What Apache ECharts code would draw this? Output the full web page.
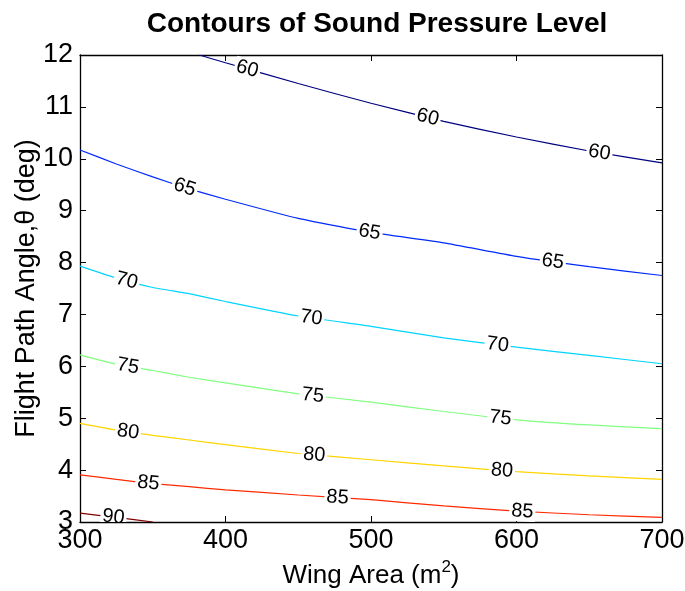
<!DOCTYPE html>
<html>
<head>
<meta charset="utf-8">
<script src="https://cdn.jsdelivr.net/npm/echarts@6/dist/echarts.min.js"></script>
<style>html,body{margin:0;padding:0;background:#fff;}#c{width:685px;height:591px;}</style>
</head>
<body>
<div id="c"></div>
<script>
// Data
const levels = [60, 65, 70, 75, 80, 85, 90];
const x60 = [382, 400, 450, 500, 550, 600, 650, 700];
const y60 = [12.0, 11.85, 11.45, 11.07, 10.72, 10.42, 10.15, 9.92];
const xCommon = [300, 325, 350, 375, 400, 450, 500, 550, 600, 650, 700];
const y65 = [10.17, 9.90, 9.65, 9.42, 9.22, 8.85, 8.58, 8.38, 8.12, 7.92, 7.75];
const y70 = [7.93, 7.70, 7.52, 7.40, 7.25, 6.97, 6.77, 6.55, 6.37, 6.21, 6.05];
const y75 = [6.22, 6.04, 5.92, 5.79, 5.68, 5.47, 5.31, 5.13, 4.97, 4.87, 4.80];
const y80 = [4.90, 4.77, 4.67, 4.58, 4.49, 4.32, 4.20, 4.08, 3.97, 3.89, 3.82];
const y85 = [3.91, 3.82, 3.74, 3.68, 3.62, 3.52, 3.43, 3.31, 3.21, 3.14, 3.09];
const x90 = [300, 325, 350];
const y90 = [3.17, 3.09, 3.0];
// label x-positions (wing area) for each contour level
const labelX60 = [415, 539, 657];
const labelX65 = [372, 499, 625];
const labelX70 = [332, 459, 587];
const labelX75 = [333, 460, 589];
const labelX80 = [333, 461, 590];
const labelX85 = [347, 477, 604];
const labelX90 = [323];
const xTicks = [300, 400, 500, 600, 700];
const yTicks = [3, 4, 5, 6, 7, 8, 9, 10, 11, 12];

const colors = ['#000080', '#002BFF', '#00D4FF', '#80FF80', '#FFD400', '#FF2B00', '#800000'];
const lines = [
  [x60, y60], [xCommon, y65], [xCommon, y70], [xCommon, y75],
  [xCommon, y80], [xCommon, y85], [x90, y90]
];
const labelXs = [labelX60, labelX65, labelX70, labelX75, labelX80, labelX85, labelX90];

function interp(xs, ys, x) {
  if (x <= xs[0]) {
    const t = (x - xs[0]) / (xs[1] - xs[0]);
    return ys[0] + t * (ys[1] - ys[0]);
  }
  for (let i = 0; i < xs.length - 1; i++) {
    if (x >= xs[i] && x <= xs[i + 1]) {
      const t = (x - xs[i]) / (xs[i + 1] - xs[i]);
      return ys[i] + t * (ys[i + 1] - ys[i]);
    }
  }
  const n = xs.length;
  const t = (x - xs[n - 2]) / (xs[n - 1] - xs[n - 2]);
  return ys[n - 2] + t * (ys[n - 1] - ys[n - 2]);
}

const FONT = '"Liberation Sans", Arial, Helvetica, sans-serif';

const series = [];
lines.forEach(function (ln, k) {
  series.push({
    type: 'line',
    xAxisIndex: 0, yAxisIndex: 0,
    data: ln[0].map(function (x, i) { return [x, ln[1][i]]; }),
    showSymbol: false,
    symbol: 'none',
    smooth: 0.15,
    lineStyle: { color: colors[k], width: 1.2 },
    silent: true,
    animation: false,
    z: 2
  });
});

const labelData = [];
labelXs.forEach(function (arr, k) {
  arr.forEach(function (x) { labelData.push([x, k]); });
});

series.push({
  type: 'custom',
  xAxisIndex: 0, yAxisIndex: 0,
  clip: true,
  z: 5,
  animation: false,
  silent: true,
  data: labelData,
  renderItem: function (params, api) {
    const x = api.value(0);
    const k = api.value(1);
    const ln = lines[k];
    const y = interp(ln[0], ln[1], x);
    const p = api.coord([x, y]);
    const pa = api.coord([x - 8, interp(ln[0], ln[1], x - 8)]);
    const pb = api.coord([x + 8, interp(ln[0], ln[1], x + 8)]);
    const ang = Math.atan2(pb[1] - pa[1], pb[0] - pa[0]);
    return {
      type: 'text',
      x: p[0], y: p[1],
      rotation: -ang,
      style: {
        text: String(levels[k]),
        fill: '#000',
        font: '20px ' + FONT,
        align: 'center',
        verticalAlign: 'middle',
        backgroundColor: '#fff',
        padding: [0, 2]
      }
    };
  }
});

const axisCommon = {
  axisLine: { show: true, onZero: false, lineStyle: { color: '#000', width: 1.3 } },
  axisTick: { show: true, inside: true, length: 6, lineStyle: { color: '#000', width: 1 } },
  splitLine: { show: false }
};

const option = {
  backgroundColor: '#fff',
  animation: false,
  title: {
    text: 'Contours of Sound Pressure Level',
    left: 372, top: 5, textAlign: 'center',
    textStyle: { fontFamily: FONT, fontSize: 28, fontWeight: 'bold', color: '#000' }
  },
  grid: { left: 80, right: 23, top: 55, bottom: 69, containLabel: false, outerBoundsMode: 'none' },
  xAxis: [
    Object.assign({
      type: 'value', min: xTicks[0], max: xTicks[xTicks.length - 1], interval: 100,
      position: 'bottom',
      name: 'Wing Area (m{sup|2})',
      nameLocation: 'middle', nameGap: 37,
      nameMoveOverlap: false,
      nameTextStyle: {
        fontFamily: FONT, fontSize: 26, color: '#000',
        rich: { sup: { fontFamily: FONT, fontSize: 17, color: '#000', padding: [0, 0, 16, 0] } }
      },
      axisLabel: { fontFamily: FONT, fontSize: 27, color: '#000', margin: 5 }
    }, axisCommon),
    Object.assign({
      type: 'value', min: xTicks[0], max: xTicks[xTicks.length - 1], interval: 100,
      position: 'top',
      axisLabel: { show: false }
    }, axisCommon)
  ],
  yAxis: [
    Object.assign({
      type: 'value', min: yTicks[0], max: yTicks[yTicks.length - 1], interval: 1,
      position: 'left',
      name: 'Flight Path Angle,\u03B8 (deg)',
      nameLocation: 'middle', nameGap: 40, nameRotate: 90,
      nameMoveOverlap: false,
      nameTextStyle: { fontFamily: FONT, fontSize: 27, color: '#000' },
      axisLabel: { fontFamily: FONT, fontSize: 27, color: '#000', margin: 7 }
    }, axisCommon),
    Object.assign({
      type: 'value', min: yTicks[0], max: yTicks[yTicks.length - 1], interval: 1,
      position: 'right',
      axisLabel: { show: false }
    }, axisCommon)
  ],
  series: series
};

const chart = echarts.init(document.getElementById('c'), null, { renderer: 'canvas' });
chart.setOption(option);
</script>
</body>
</html>
